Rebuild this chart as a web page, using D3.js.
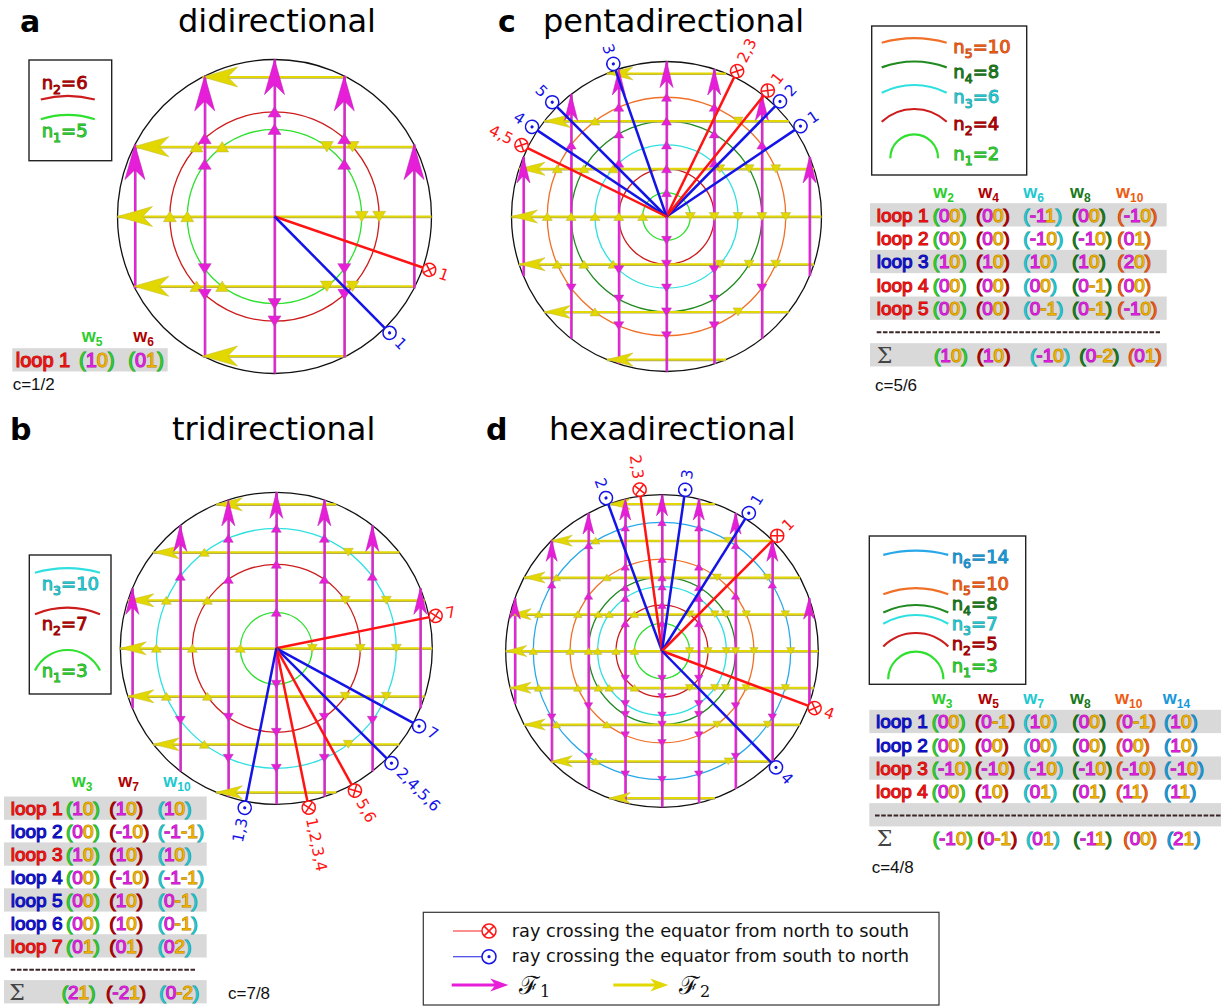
<!DOCTYPE html>
<html>
<head>
<meta charset="utf-8">
<script src="https://cdn.jsdelivr.net/npm/d3@7/dist/d3.min.js"></script>
<style>
	body { margin: 0; background: #fff; }
	svg { display: block; }
</style>
</head>
<body>
<svg id="viz-rings" width="1221" height="1006"></svg>
<script>

// Ring orders n of every panel (a, b, c, d).
var ordersA = [ 5, 6 ];
var ordersB = [ 3, 7, 10 ];
var ordersC = [ 2, 4, 6, 8, 10 ];
var ordersD = [ 3, 5, 7, 8, 10, 14 ];

// Field lines, as offsets from the centre in ring units.
var gridA = [ -8, -4, 0, 4, 8 ];
var gridB = [ -12, -8, -4, 0, 4, 8, 12 ];
var gridC = [ -12, -8, -4, 0, 4, 8, 12 ];
var gridD = [ -16, -12, -8, -4, 0, 4, 8, 12, 16 ];

// Rays: angle in degrees, clockwise from east. 'ns' = north to south, 'sn' = south to north.
var raysA = [
	{ kind: 'ns', angle: 19.0, label: '1' },
	{ kind: 'sn', angle: 45.3, label: '1' }
];
var raysB = [
	{ kind: 'ns', angle: -11.5, label: '7' },
	{ kind: 'sn', angle: 28.6, label: '7' },
	{ kind: 'sn', angle: 44.9, label: '2,4,5,6' },
	{ kind: 'ns', angle: 61.1, label: '5,6' },
	{ kind: 'ns', angle: 78.5, label: '1,2,3,4' },
	{ kind: 'sn', angle: 101.2, label: '1,3' }
];
var raysC = [
	{ kind: 'sn', angle: -34.0, label: '1' },
	{ kind: 'sn', angle: -45.4, label: '2' },
	{ kind: 'ns', angle: -51.2, label: '1' },
	{ kind: 'ns', angle: -64.1, label: '2,3' },
	{ kind: 'sn', angle: -109.2, label: '3' },
	{ kind: 'sn', angle: -135.0, label: '5' },
	{ kind: 'sn', angle: -146.3, label: '4' },
	{ kind: 'ns', angle: -153.8, label: '4,5' }
];
var raysD = [
	{ kind: 'sn', angle: -110.1, label: '2' },
	{ kind: 'ns', angle: -97.9, label: '2,3' },
	{ kind: 'sn', angle: -81.8, label: '3' },
	{ kind: 'sn', angle: -57.8, label: '1' },
	{ kind: 'ns', angle: -45.0, label: '1' },
	{ kind: 'ns', angle: 20.5, label: '4' },
	{ kind: 'sn', angle: 45.6, label: '4' }
];

// Winding tables: column heads (w_n), kind of each loop, cell pairs and the sum row.
var headA = [ 5, 6 ];
var loopKindsA = [ 'ns' ];
var cellsA = [
	[ [ 1, 0 ], [ 0, 1 ] ]
];

var headB = [ 3, 7, 10 ];
var loopKindsB = [ 'ns', 'sn', 'ns', 'sn', 'sn', 'sn', 'ns' ];
var cellsB = [
	[ [ 1, 0 ], [ 1, 0 ], [ 1, 0 ] ],
	[ [ 0, 0 ], [ -1, 0 ], [ -1, -1 ] ],
	[ [ 1, 0 ], [ 1, 0 ], [ 1, 0 ] ],
	[ [ 0, 0 ], [ -1, 0 ], [ -1, -1 ] ],
	[ [ 0, 0 ], [ 1, 0 ], [ 0, -1 ] ],
	[ [ 0, 0 ], [ 1, 0 ], [ 0, -1 ] ],
	[ [ 0, 1 ], [ 0, 1 ], [ 0, 2 ] ]
];
var sumB = [ [ 2, 1 ], [ -2, 1 ], [ 0, -2 ] ];

var headC = [ 2, 4, 6, 8, 10 ];
var loopKindsC = [ 'ns', 'ns', 'sn', 'ns', 'ns' ];
var cellsC = [
	[ [ 0, 0 ], [ 0, 0 ], [ -1, 1 ], [ 0, 0 ], [ -1, 0 ] ],
	[ [ 0, 0 ], [ 0, 0 ], [ -1, 0 ], [ -1, 0 ], [ 0, 1 ] ],
	[ [ 1, 0 ], [ 1, 0 ], [ 1, 0 ], [ 1, 0 ], [ 2, 0 ] ],
	[ [ 0, 0 ], [ 0, 0 ], [ 0, 0 ], [ 0, -1 ], [ 0, 0 ] ],
	[ [ 0, 0 ], [ 0, 0 ], [ 0, -1 ], [ 0, -1 ], [ -1, 0 ] ]
];
var sumC = [ [ 1, 0 ], [ 1, 0 ], [ -1, 0 ], [ 0, -2 ], [ 0, 1 ] ];

var headD = [ 3, 5, 7, 8, 10, 14 ];
var loopKindsD = [ 'sn', 'sn', 'ns', 'ns' ];
var cellsD = [
	[ [ 0, 0 ], [ 0, -1 ], [ 1, 0 ], [ 0, 0 ], [ 0, -1 ], [ 1, 0 ] ],
	[ [ 0, 0 ], [ 0, 0 ], [ 0, 0 ], [ 0, 0 ], [ 0, 0 ], [ 1, 0 ] ],
	[ [ -1, 0 ], [ -1, 0 ], [ -1, 0 ], [ -1, 0 ], [ -1, 0 ], [ -1, 0 ] ],
	[ [ 0, 0 ], [ 1, 0 ], [ 0, 1 ], [ 0, 1 ], [ 1, 1 ], [ 1, 1 ] ]
];
var sumD = [ [ -1, 0 ], [ 0, -1 ], [ 0, 1 ], [ -1, 1 ], [ 0, 0 ], [ 2, 1 ] ];

var chargeLabels = [ 'c=1/2', 'c=7/8', 'c=5/6', 'c=4/8' ];

var legendRows = [
	{ kind: 'ns', text: 'ray crossing the equator from north to south' },
	{ kind: 'sn', text: 'ray crossing the equator from south to north' }
];



window.ringViz = {

	_ringColors: [ '#2fe02f', '#cc1c1c', '#30e0e0', '#208a20', '#f07028', '#28a8e8' ],
	_ringText: [ '#2ccc2c', '#b00000', '#20c8d0', '#187818', '#ee5a10', '#1898d8' ],
	_rayColors: { ns: '#ff1414', sn: '#1414e6' },
	_loopColors: { ns: '#ee1111', sn: '#1010cc' },
	_f1: '#e61ed8',
	_f2: '#e2d800',
	_digit1: '#e01ee0',
	_digit2: '#f0b000',



	/**
	 * @private
	 * Layout of the four panels: sphere, legend box and table.
	 */
	_layout: [
		{
			letter: 'a', title: 'didirectional', letterX: 20, titleX: 178, titleY: 32,
			cx: 274.5, cy: 216.5, R: 157, arrowL: 35, arrowW: 20, tri: 13,
			legend: { x: 29, y: 60, w: 82.7, h: 100.7, arcX: 67.8, half: 27, textX: 41.7,
				rows: [ { i: 1, top: 96, ty: 89.3 }, { i: 0, top: 115, ty: 137.3 } ] },
			table: { x0: 12.3, x1: 167.7, labelX: 15.7, cols: [ 79, 128.3 ], heads: [ 81.7, 133.3 ],
				headY: 342, y0: 366.7, rowH: 23.3, font: 20, paren: [ 0, 0 ], chargeX: 12.7, chargeY: 390 }
		},
		{
			letter: 'b', title: 'tridirectional', letterX: 10, titleX: 172, titleY: 440,
			cx: 276.3, cy: 648.3, R: 156, arrowL: 26, arrowW: 13, tri: 10,
			legend: { x: 29.3, y: 555, w: 81.7, h: 139, arcX: 67.5, half: 32.5, textX: 41.7,
				rows: [ { i: 2, top: 568.3, ty: 590 }, { i: 1, top: 607.7, ty: 630 }, { i: 0, top: 650, ty: 676.7 } ] },
			table: { x0: 4, x1: 206.7, labelX: 10.7, cols: [ 66, 109.3, 157.7 ], heads: [ 71.7, 118.3, 163.3 ],
				sumCols: [ 61.7, 106, 159.3 ], headY: 787, y0: 815, rowH: 22.95, font: 19,
				dash: [ 10.7, 195 ], sigmaX: 9.3, chargeX: 228, chargeY: 999.3 }
		},
		{
			letter: 'c', title: 'pentadirectional', letterX: 498, titleX: 543, titleY: 32,
			cx: 666.5, cy: 216.5, R: 155, arrowL: 26, arrowW: 13, tri: 10,
			legend: { x: 871.7, y: 26, w: 155, h: 149, arcX: 914.2, half: 32.5, textX: 953.3,
				rows: [ { i: 4, top: 38.3, ty: 53 }, { i: 3, top: 61.7, ty: 78.3 }, { i: 2, top: 85, ty: 103.3 },
					{ i: 1, top: 109, ty: 130 }, { i: 0, top: 134.3, ty: 160 } ] },
			table: { x0: 870, x1: 1166.7, labelX: 876.7, cols: [ 932.7, 976, 1023.3, 1072, 1117.3 ],
				heads: [ 933.3, 978.3, 1023.3, 1070, 1116 ], sumCols: [ 934, 976.7, 1030, 1079.3, 1128 ],
				headY: 198, y0: 221.7, rowH: 23.33, font: 19, dash: [ 876.7, 1160 ], sigmaX: 876.7,
				chargeX: 875, chargeY: 390.7 }
		},
		{
			letter: 'd', title: 'hexadirectional', letterX: 486, titleX: 549, titleY: 440,
			cx: 662, cy: 651, R: 156.3, arrowL: 21, arrowW: 11, tri: 8.5,
			legend: { x: 869.3, y: 536, w: 156.4, h: 148.3, arcX: 915.8, half: 32.5, textX: 951.7,
				rows: [ { i: 5, top: 550.7, ty: 562.7 }, { i: 4, top: 588.3, ty: 590 }, { i: 3, top: 605, ty: 610 },
					{ i: 2, top: 615, ty: 630 }, { i: 1, top: 633, ty: 650 }, { i: 0, top: 651.7, ty: 671.7 } ] },
			table: { x0: 869.3, x1: 1221, labelX: 876, cols: [ 931.7, 975, 1023.3, 1072.3, 1116, 1164 ],
				heads: [ 931.7, 978.3, 1023.3, 1070, 1115, 1162.7 ],
				sumCols: [ 932.7, 977.3, 1026, 1073.3, 1123.3, 1166.7 ],
				headY: 704, y0: 728.3, rowH: 23.33, font: 19, dash: [ 875, 1221 ], sigmaX: 876.7,
				chargeX: 871.7, chargeY: 873.3 }
		}
	],



	_bindSvg: function () {
		this._svg = d3.select( '#viz-rings' );
	},



	/**
	 * @private
	 * Barbed arrow head pointing up, tip at the origin.
	 */
	_headPath: function ( L, W ) {
		return 'M0,0L' + ( W / 2 ) + ',' + L + 'L0,' + ( 0.72 * L ) + 'L' + ( -W / 2 ) + ',' + L + 'Z';
	},



	_triPath: function ( s, up ) {
		var h = s * 0.8;
		if ( up ) {
			return 'M0,' + ( -h / 2 ) + 'L' + ( s / 2 ) + ',' + ( h / 2 ) + 'L' + ( -s / 2 ) + ',' + ( h / 2 ) + 'Z';
		}
		return 'M0,' + ( h / 2 ) + 'L' + ( s / 2 ) + ',' + ( -h / 2 ) + 'L' + ( -s / 2 ) + ',' + ( -h / 2 ) + 'Z';
	},



	/**
	 * @private
	 * Crossing marker: circle with a cross (ns) or a dot (sn).
	 */
	_marker: function ( g, kind, r ) {
		var col = this._rayColors[kind];
		g.append( 'circle' ).attr( 'r', r ).attr( 'fill', '#fff' ).attr( 'stroke', col ).attr( 'stroke-width', 1.5 );
		if ( kind === 'ns' ) {
			var c = r * 0.7;
			g.append( 'path' )
				.attr( 'd', 'M' + ( -c ) + ',' + ( -c ) + 'L' + c + ',' + c + 'M' + ( -c ) + ',' + c + 'L' + c + ',' + ( -c ) )
				.attr( 'stroke', col ).attr( 'stroke-width', 1.5 );
		} else {
			g.append( 'circle' ).attr( 'r', 1.6 ).attr( 'fill', col );
		}
	},



	/**
	 * @private
	 * Draws the sphere of one panel: rings, field lines, arrows and rays.
	 */
	_drawSphere: function ( p, d ) {

		var M = d3.max( d.grid ) + 1;
		var x = d3.scaleLinear().domain( [ -M, M ] ).range( [ p.cx - p.R, p.cx + p.R ] );
		var y = d3.scaleLinear().domain( [ -M, M ] ).range( [ p.cy + p.R, p.cy - p.R ] );
		var rad = function ( n ) { return x( n ) - x( 0 ); };
		var g = this._svg.append( 'g' ).classed( 'sphere', true );

		g.append( 'circle' )
			.attr( 'cx', x( 0 ) ).attr( 'cy', y( 0 ) ).attr( 'r', rad( M ) )
			.attr( 'fill', 'none' ).attr( 'stroke', '#111' ).attr( 'stroke-width', 1.3 );

		g.selectAll( 'circle.ring' )
			.data( d.orders )
			.enter()
			.append( 'circle' )
			.classed( 'ring', true )
			.attr( 'cx', x( 0 ) ).attr( 'cy', y( 0 ) )
			.attr( 'r', function ( n ) { return rad( n ); } )
			.attr( 'fill', 'none' )
			.attr( 'stroke', function ( n, i ) { return this._ringColors[i]; }.bind( this ) )
			.attr( 'stroke-width', 1.3 );

		var chords = d.grid.map( function ( u ) {
			return { u: u, h: Math.sqrt( M * M - u * u ) };
		} );

		// F2 lines (horizontal, yellow) with a faint olive shadow.
		g.selectAll( 'line.f2s' ).data( chords ).enter().append( 'line' )
			.attr( 'x1', function ( c ) { return x( -c.h ); } )
			.attr( 'x2', function ( c ) { return x( c.h ); } )
			.attr( 'y1', function ( c ) { return y( c.u ) + 1.1; } )
			.attr( 'y2', function ( c ) { return y( c.u ) + 1.1; } )
			.attr( 'stroke', '#a8a26a' ).attr( 'stroke-width', 1.2 );
		g.selectAll( 'line.f2' ).data( chords ).enter().append( 'line' )
			.attr( 'x1', function ( c ) { return x( -c.h ); } )
			.attr( 'x2', function ( c ) { return x( c.h ); } )
			.attr( 'y1', function ( c ) { return y( c.u ); } )
			.attr( 'y2', function ( c ) { return y( c.u ); } )
			.attr( 'stroke', this._f2 ).attr( 'stroke-width', 2 );

		// F1 lines (vertical, magenta).
		g.selectAll( 'line.f1s' ).data( chords ).enter().append( 'line' )
			.attr( 'x1', function ( c ) { return x( c.u ) + 1.1; } )
			.attr( 'x2', function ( c ) { return x( c.u ) + 1.1; } )
			.attr( 'y1', function ( c ) { return y( -c.h ); } )
			.attr( 'y2', function ( c ) { return y( c.h ); } )
			.attr( 'stroke', '#a0689c' ).attr( 'stroke-width', 1.2 );
		g.selectAll( 'line.f1' ).data( chords ).enter().append( 'line' )
			.attr( 'x1', function ( c ) { return x( c.u ); } )
			.attr( 'x2', function ( c ) { return x( c.u ); } )
			.attr( 'y1', function ( c ) { return y( -c.h ); } )
			.attr( 'y2', function ( c ) { return y( c.h ); } )
			.attr( 'stroke', this._f1 ).attr( 'stroke-width', 2 );

		// Small triangles where the field lines cut the rings.
		var cuts = [];
		d.grid.forEach( function ( u ) {
			d.orders.forEach( function ( n ) {
				if ( Math.abs( u ) < n - 1e-6 ) {
					var s = Math.sqrt( n * n - u * u );
					cuts.push( { f: 1, px: x( u ), py: y( s ), up: true } );
					cuts.push( { f: 1, px: x( u ), py: y( -s ), up: false } );
					cuts.push( { f: 2, px: x( -s ), py: y( u ), up: true } );
					cuts.push( { f: 2, px: x( s ), py: y( u ), up: false } );
				}
			} );
		} );
		cuts.sort( function ( a, b ) { return b.f - a.f; } );

		g.selectAll( 'path.cut' )
			.data( cuts )
			.enter()
			.append( 'path' )
			.classed( 'cut', true )
			.attr( 'transform', function ( c ) { return 'translate(' + c.px + ',' + c.py + ')'; } )
			.attr( 'd', function ( c ) { return this._triPath( p.tri, c.up ); }.bind( this ) )
			.attr( 'fill', function ( c ) { return c.f === 1 ? this._f1 : this._f2; }.bind( this ) )
			.attr( 'stroke', function ( c ) { return c.f === 1 ? '#b040a8' : '#b8b040'; } )
			.attr( 'stroke-width', 0.5 );

		// Big arrow heads: F2 to the left, F1 upwards.
		var head = this._headPath( p.arrowL, p.arrowW );
		g.selectAll( 'path.h2' ).data( chords ).enter().append( 'path' )
			.attr( 'transform', function ( c ) { return 'translate(' + x( -c.h ) + ',' + y( c.u ) + ') rotate(-90)'; } )
			.attr( 'd', head ).attr( 'fill', this._f2 ).attr( 'stroke', '#c8c030' ).attr( 'stroke-width', 0.6 );
		g.selectAll( 'path.h1' ).data( chords ).enter().append( 'path' )
			.attr( 'transform', function ( c ) { return 'translate(' + x( c.u ) + ',' + y( c.h ) + ')'; } )
			.attr( 'd', head ).attr( 'fill', this._f1 ).attr( 'stroke', '#c020b8' ).attr( 'stroke-width', 0.6 );

		// Rays from the centre to the equator crossings.
		var rOut = rad( M );
		var mr = 6.6;
		var rays = g.selectAll( 'g.ray' )
			.data( d.rays )
			.enter()
			.append( 'g' )
			.classed( 'ray', true );

		rays.append( 'line' )
			.attr( 'x1', x( 0 ) ).attr( 'y1', y( 0 ) )
			.attr( 'x2', function ( r ) { return x( 0 ) + ( rOut + mr ) * Math.cos( r.angle * Math.PI / 180 ); } )
			.attr( 'y2', function ( r ) { return y( 0 ) + ( rOut + mr ) * Math.sin( r.angle * Math.PI / 180 ); } )
			.attr( 'stroke', function ( r ) { return this._rayColors[r.kind]; }.bind( this ) )
			.attr( 'stroke-width', 2.5 );

		rays.each( function ( r ) {
			var a = r.angle * Math.PI / 180;
			var m = d3.select( this ).append( 'g' )
				.attr( 'transform', 'translate(' + ( x( 0 ) + ( rOut + mr ) * Math.cos( a ) ) + ',' +
					( y( 0 ) + ( rOut + mr ) * Math.sin( a ) ) + ') rotate(' + r.angle + ')' );
			window.ringViz._marker( m, r.kind, mr );

			var rot = r.angle;
			var anchor = 'start';
			if ( Math.cos( a ) < 0 ) {
				rot = r.angle + 180;
				anchor = 'end';
			}
			var lx = x( 0 ) + ( rOut + 2 * mr + 4 ) * Math.cos( a );
			var ly = y( 0 ) + ( rOut + 2 * mr + 4 ) * Math.sin( a );
			d3.select( this ).append( 'text' )
				.attr( 'transform', 'translate(' + lx + ',' + ly + ') rotate(' + rot + ')' )
				.attr( 'text-anchor', anchor )
				.attr( 'dominant-baseline', 'central' )
				.style( 'font-family', 'DejaVu Sans' )
				.style( 'font-size', '15.5px' )
				.attr( 'fill', window.ringViz._rayColors[r.kind] )
				.text( r.label );
		} );

		// Titles.
		this._svg.append( 'text' )
			.attr( 'x', p.letterX ).attr( 'y', p.titleY )
			.style( 'font-family', 'DejaVu Sans' ).style( 'font-weight', 'bold' ).style( 'font-size', '30px' )
			.text( p.letter );
		this._svg.append( 'text' )
			.attr( 'x', p.titleX ).attr( 'y', p.titleY )
			.style( 'font-family', 'DejaVu Sans' ).style( 'font-size', '32px' )
			.text( p.title );

		return rad( 1 );
	},



	/**
	 * @private
	 * Legend box with one arc per ring.
	 */
	_drawLegend: function ( p, d, unit ) {

		var L = p.legend;
		var g = this._svg.append( 'g' ).classed( 'legend', true );

		g.append( 'rect' )
			.attr( 'x', L.x ).attr( 'y', L.y ).attr( 'width', L.w ).attr( 'height', L.h )
			.attr( 'fill', '#fff' ).attr( 'stroke', '#222' ).attr( 'stroke-width', 1.4 );

		var rows = g.selectAll( 'g.lrow' )
			.data( L.rows )
			.enter()
			.append( 'g' )
			.classed( 'lrow', true );

		rows.append( 'path' )
			.attr( 'd', function ( row ) {
				var r = d.orders[row.i] * unit;
				if ( r > L.half ) {
					var yEnd = row.top + r - Math.sqrt( r * r - L.half * L.half );
					return 'M' + ( L.arcX - L.half ) + ',' + yEnd + 'A' + r + ',' + r + ' 0 0 1 ' + ( L.arcX + L.half ) + ',' + yEnd;
				}
				return 'M' + ( L.arcX - r ) + ',' + ( row.top + r ) + 'A' + r + ',' + r + ' 0 0 1 ' + ( L.arcX + r ) + ',' + ( row.top + r );
			} )
			.attr( 'fill', 'none' )
			.attr( 'stroke', function ( row ) { return this._ringColors[row.i]; }.bind( this ) )
			.attr( 'stroke-width', 2.2 );

		var self = this;
		rows.each( function ( row ) {
			var col = self._ringText[row.i];
			var t = d3.select( this ).append( 'text' )
				.attr( 'x', L.textX ).attr( 'y', row.ty )
				.style( 'font-family', 'DejaVu Sans' ).style( 'font-size', '18px' )
				.attr( 'fill', col )
				.attr( 'stroke', d3.color( col ).darker( 0.9 ) )
				.attr( 'stroke-width', 0.9 )
				.attr( 'paint-order', 'stroke' );
			t.append( 'tspan' ).text( 'n' );
			t.append( 'tspan' ).attr( 'dy', 5 ).style( 'font-size', '12.5px' ).text( row.i + 1 );
			t.append( 'tspan' ).attr( 'dy', -5 ).text( '=' + d.orders[row.i] );
		} );

	},



	_cell: function ( text, pair, parenColor ) {
		var parts = [
			{ s: '(', c: parenColor },
			{ s: String( pair[0] ), c: this._digit1 },
			{ s: String( pair[1] ), c: this._digit2 },
			{ s: ')', c: parenColor }
		];
		parts.forEach( function ( part ) {
			text.append( 'tspan' )
				.attr( 'fill', part.c )
				.attr( 'stroke', d3.color( part.c ).darker( 0.8 ) )
				.text( part.s );
		} );
	},



	/**
	 * @private
	 * Table of winding pairs per loop and ring.
	 */
	_drawTable: function ( p, d ) {

		var T = p.table;
		var g = this._svg.append( 'g' ).classed( 'table', true );
		var nLoops = d.cells.length;
		var rowY = function ( i ) { return T.y0 + i * T.rowH; };
		var totalRows = d.sum ? nLoops + 2 : nLoops;
		var colorOf = function ( w ) { return this._ringText[d.orders.indexOf( w )]; }.bind( this );

		// Grey bands on every other row.
		g.selectAll( 'rect.band' )
			.data( d3.range( 0, totalRows, 2 ) )
			.enter()
			.append( 'rect' )
			.classed( 'band', true )
			.attr( 'x', T.x0 ).attr( 'width', T.x1 - T.x0 )
			.attr( 'y', function ( i ) { return rowY( i ) - 18.5; } )
			.attr( 'height', 23.3 )
			.attr( 'fill', '#d9d9d9' );

		// Column heads.
		g.selectAll( 'text.head' )
			.data( d.head )
			.enter()
			.append( 'text' )
			.classed( 'head', true )
			.attr( 'x', function ( w, i ) { return T.heads[i]; } )
			.attr( 'y', T.headY )
			.style( 'font-family', 'Liberation Sans' ).style( 'font-weight', 'bold' ).style( 'font-size', '18px' )
			.attr( 'fill', colorOf )
			.each( function ( w ) {
				d3.select( this ).append( 'tspan' ).text( 'w' );
				d3.select( this ).append( 'tspan' ).attr( 'dy', 4 ).style( 'font-size', '12px' ).text( w );
			} );

		var textStyle = function ( sel ) {
			sel.style( 'font-family', 'Liberation Sans' )
				.style( 'font-size', T.font + 'px' )
				.attr( 'stroke-width', 1.1 )
				.attr( 'paint-order', 'stroke' );
		};

		var parenColor = function ( i ) {
			return T.paren ? this._ringText[T.paren[i]] : colorOf( d.head[i] );
		}.bind( this );

		var self = this;
		d.cells.forEach( function ( row, r ) {
			var col = self._loopColors[d.kinds[r]];
			g.append( 'text' )
				.attr( 'x', T.labelX ).attr( 'y', rowY( r ) )
				.call( textStyle )
				.attr( 'fill', col ).attr( 'stroke', d3.color( col ).darker( 0.8 ) )
				.text( 'loop ' + ( r + 1 ) );
			row.forEach( function ( pair, c ) {
				var t = g.append( 'text' ).attr( 'x', T.cols[c] ).attr( 'y', rowY( r ) ).call( textStyle );
				self._cell( t, pair, parenColor( c ) );
			} );
		} );

		if ( d.sum ) {
			g.append( 'line' )
				.attr( 'x1', T.dash[0] ).attr( 'x2', T.dash[1] )
				.attr( 'y1', rowY( nLoops ) - 6 ).attr( 'y2', rowY( nLoops ) - 6 )
				.attr( 'stroke', '#3a2626' ).attr( 'stroke-width', 2 )
				.attr( 'stroke-dasharray', '4.6,1.6' );

			g.append( 'text' )
				.attr( 'x', T.sigmaX ).attr( 'y', rowY( nLoops + 1 ) + 1 )
				.style( 'font-family', 'DejaVu Serif' ).style( 'font-size', '22px' )
				.attr( 'fill', '#444' )
				.text( '\u03A3' );

			d.sum.forEach( function ( pair, c ) {
				var t = g.append( 'text' ).attr( 'x', T.sumCols[c] ).attr( 'y', rowY( nLoops + 1 ) ).call( textStyle );
				self._cell( t, pair, parenColor( c ) );
			} );
		}

		this._svg.append( 'text' )
			.attr( 'x', T.chargeX ).attr( 'y', T.chargeY )
			.style( 'font-family', 'Liberation Sans' ).style( 'font-size', '17px' )
			.attr( 'fill', '#111' )
			.text( d.charge );

	},



	/**
	 * @private
	 * Shared key at the bottom of the figure.
	 */
	_drawKey: function () {

		var g = this._svg.append( 'g' ).classed( 'key', true );
		var self = this;

		g.append( 'rect' )
			.attr( 'x', 423.3 ).attr( 'y', 912.3 ).attr( 'width', 515.7 ).attr( 'height', 92.7 )
			.attr( 'fill', '#fff' ).attr( 'stroke', '#333' ).attr( 'stroke-width', 1.2 );

		var rows = g.selectAll( 'g.krow' )
			.data( legendRows )
			.enter()
			.append( 'g' )
			.attr( 'transform', function ( r, i ) { return 'translate(0,' + ( 931 + i * 25.7 ) + ')'; } );

		rows.append( 'line' )
			.attr( 'x1', 453 ).attr( 'x2', 484 ).attr( 'y1', 0 ).attr( 'y2', 0 )
			.attr( 'stroke', function ( r ) { return self._rayColors[r.kind]; } )
			.attr( 'stroke-width', 1.2 ).attr( 'stroke-opacity', 0.8 );
		rows.each( function ( r ) {
			var m = d3.select( this ).append( 'g' ).attr( 'transform', 'translate(489,0)' );
			self._marker( m, r.kind, 7 );
		} );
		rows.append( 'text' )
			.attr( 'x', 511.7 ).attr( 'y', 5.6 )
			.style( 'font-family', 'DejaVu Sans' ).style( 'font-size', '17.8px' )
			.attr( 'fill', '#111' )
			.text( function ( r ) { return r.text; } );

		var fields = [ { x0: 451.7, x1: 508.3, c: this._f1, tx: 519, sub: '1' },
			{ x0: 613.3, x1: 668.3, c: this._f2, tx: 679, sub: '2' } ];
		var head = this._headPath( 18, 13 );

		fields.forEach( function ( f ) {
			g.append( 'line' )
				.attr( 'x1', f.x0 ).attr( 'x2', f.x1 - 10 ).attr( 'y1', 985 ).attr( 'y2', 985 )
				.attr( 'stroke', f.c ).attr( 'stroke-width', 3 );
			g.append( 'path' )
				.attr( 'transform', 'translate(' + f.x1 + ',985) rotate(90)' )
				.attr( 'd', head ).attr( 'fill', f.c );
			var t = g.append( 'text' )
				.attr( 'x', f.tx ).attr( 'y', 994 )
				.style( 'font-family', 'DejaVu Serif' ).style( 'font-size', '25px' )
				.attr( 'fill', '#111' );
			t.append( 'tspan' ).text( '\u2131' );
			t.append( 'tspan' ).attr( 'dy', 3 ).style( 'font-size', '16px' ).text( f.sub );
		} );

	},



	on: function () {

		this._bindSvg();

		var panelData = [
			{ orders: ordersA, grid: gridA, rays: raysA, head: headA, kinds: loopKindsA, cells: cellsA, sum: null, charge: chargeLabels[0] },
			{ orders: ordersB, grid: gridB, rays: raysB, head: headB, kinds: loopKindsB, cells: cellsB, sum: sumB, charge: chargeLabels[1] },
			{ orders: ordersC, grid: gridC, rays: raysC, head: headC, kinds: loopKindsC, cells: cellsC, sum: sumC, charge: chargeLabels[2] },
			{ orders: ordersD, grid: gridD, rays: raysD, head: headD, kinds: loopKindsD, cells: cellsD, sum: sumD, charge: chargeLabels[3] }
		];

		this._layout.forEach( function ( p, i ) {
			var unit = this._drawSphere( p, panelData[i] );
			this._drawLegend( p, panelData[i], unit );
			this._drawTable( p, panelData[i] );
		}.bind( this ) );

		this._drawKey();

	}

};

window.ringViz.on();
</script>
</body>
</html>
